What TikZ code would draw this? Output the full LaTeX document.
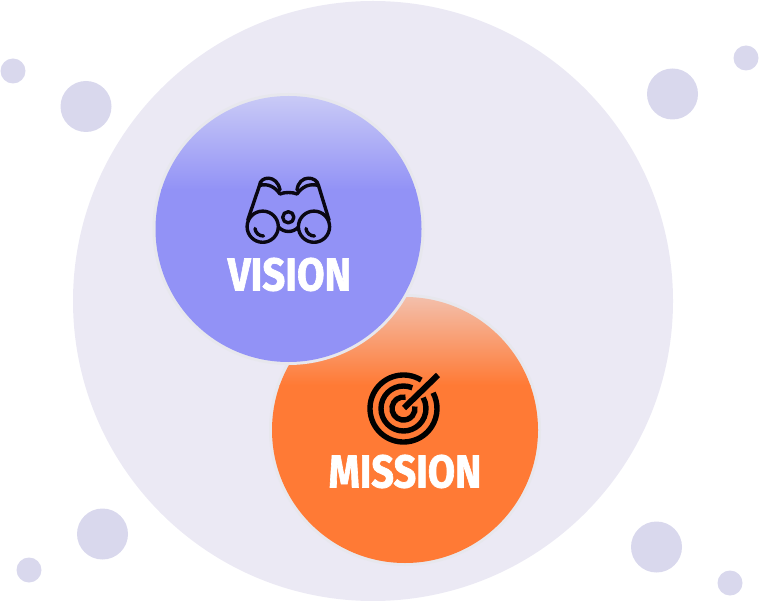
\documentclass[tikz,border=0pt]{standalone}
\usepackage{fontspec}
\setmainfont{Fira Sans}[BoldFeatures={FakeBold=1.6}]
\definecolor{bigc}{HTML}{EBE9F4}
\definecolor{dot}{HTML}{D9D8ED}
\definecolor{rimc}{HTML}{E7E7ED}
\definecolor{violetc}{HTML}{9292F6}
\definecolor{violetl}{HTML}{C9CAF6}
\definecolor{orangec}{HTML}{FF7A35}
\definecolor{orangel}{HTML}{F3BFAB}
\definecolor{inkc}{HTML}{0A0712}
\tikzset{
 dotS/.style={fill=dot,draw=none},
 icon/.style={draw=inkc,line width=3.4pt,line cap=round,line join=round},
 target/.style={draw=black,line width=5.4pt},
 lab/.style={text=white,font=\bfseries\fontsize{46}{46}\selectfont,inner sep=0pt,anchor=center}
}
\begin{document}
\begin{tikzpicture}[x=1pt,y=-1pt]
\useasboundingbox (0,0) rectangle (759,601);
\fill[bigc] (373,301) circle[radius=300];
\foreach \x/\y/\r in {13/71/12.5,86/106.5/25.5,672.5/94/25.5,746/58/12.5,102.5/534/25.5,29/570/12.5,656.5/547/25.5,730/583/12.5}
  \fill[dotS] (\x,\y) circle[radius=\r];
% mission
\fill[rimc] (405,430) circle[radius=136];
\begin{scope}
 \clip (405,430) circle[radius=133];
 \shade[top color=orangel,bottom color=orangec] (270,297) rectangle (540,385);
 \fill[orangec] (270,384.5) rectangle (540,565);
\end{scope}
% vision
\fill[rimc] (288.5,229) circle[radius=136];
\begin{scope}
 \clip (288.5,229) circle[radius=133];
 \shade[top color=violetl,bottom color=violetc] (150,96) rectangle (425,190);
 \fill[violetc] (150,189.5) rectangle (425,365);
\end{scope}
% binoculars
\draw[icon] (262.7,226.7) circle[radius=15.6];
\draw[icon] (314,226.7) circle[radius=15.6];
\draw[icon] (288.3,217.3) circle[radius=5.6];
\draw[icon] (255,228.5) .. controls (255.5,233) and (259,236) .. (263.5,236);
\draw[icon] (306,228.5) .. controls (306.5,233) and (310,236) .. (314.5,236);
\draw[icon] (247.8,220) -- (259.5,185.5) .. controls (260,176) and (277,174) .. (280,190);
\draw[icon] (259.5,185.5) .. controls (268,183) and (275,187) .. (280,194) .. controls (284,192) and (293,192) .. (297,194) .. controls (302,187) and (309,183) .. (318.5,185.5);
\draw[icon] (297,190) .. controls (299,174) and (317,176) .. (318.5,185.5) -- (329,220);
\draw[icon] (278.5,227) .. controls (284,233) and (293,233) .. (298.5,227);
% target
\coordinate (tc) at (403.5,408.5);
\draw[target] (tc) ++(-58:33.5) arc[start angle=-58,end angle=-388,radius=33.5];
\draw[target] (tc) ++(-67:22.5) arc[start angle=-67,end angle=-389,radius=22.5];
\draw[target] (tc) ++(-80:11.5) arc[start angle=-80,end angle=-370,radius=11.5];
\draw[target,line width=6pt] (404,408) -- (438,375);
% text
\node[lab] (vision) at (289.5,274.5) {\scalebox{.87}[1]{VISION}};
\node[lab] (mission) at (405,471.5) {\scalebox{.86}[1]{MISSION}};
\end{tikzpicture}
\end{document}
